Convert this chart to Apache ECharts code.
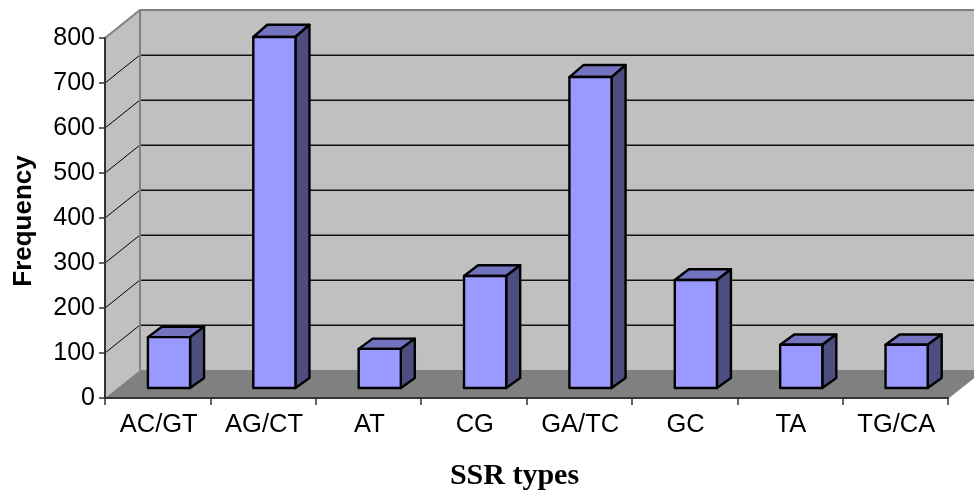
<!DOCTYPE html>
<html>
<head>
<meta charset="utf-8">
<style>
html, body { margin: 0; padding: 0; background: #fff; }
#chart { width: 974px; height: 493px; }
</style>
<script src="https://cdn.jsdelivr.net/npm/echarts@6/dist/echarts.min.js"></script>
</head>
<body>
<div id="chart"></div>
<script>
var categories = ['AC/GT', 'AG/CT', 'AT', 'CG', 'GA/TC', 'GC', 'TA', 'TG/CA'];
var frequency = [113, 780, 87, 249, 691, 240, 96, 96];
var gridValues = [100, 200, 300, 400, 500, 600, 700];

// pseudo 3d depth of the box and of the bars, in pixels
var wallDx = 35, wallDy = -28;
var barDx = 11.3, barDy = -10;
var sideDx = 14, sideDy = -10;

var mychar = echarts.init(document.querySelector('#chart'));

function wallsItem(params, api) {
    var band = api.size([1, 0])[0];
    var x0 = api.coord([0, 0])[0] - band / 2;
    var x1 = x0 + band * categories.length;
    var y0 = api.coord([0, 0])[1];
    var yTop = api.coord([0, 800])[1];
    var border = { stroke: '#808080', lineWidth: 2, fill: null };
    var children = [
        { type: 'polygon', shape: { points: [[x0 + wallDx, yTop + wallDy], [x1 + wallDx, yTop + wallDy], [x1 + wallDx, y0 + wallDy], [x0 + wallDx, y0 + wallDy]] }, style: { fill: '#c0c0c0' } },
        { type: 'polygon', shape: { points: [[x0, yTop], [x0 + wallDx, yTop + wallDy], [x0 + wallDx, y0 + wallDy], [x0, y0]] }, style: { fill: '#c0c0c0' } },
        { type: 'polygon', shape: { points: [[x0, y0], [x1, y0], [x1 + wallDx, y0 + wallDy], [x0 + wallDx, y0 + wallDy]] }, style: { fill: '#808080' } }
    ];
    gridValues.forEach(function (v) {
        var y = Math.round(api.coord([0, v])[1]);
        children.push({ type: 'line', shape: { x1: x0, y1: y, x2: x0 + wallDx, y2: y + wallDy }, style: { stroke: '#000', lineWidth: 1 } });
        children.push({ type: 'line', shape: { x1: x0 + wallDx, y1: y + wallDy + 0.25, x2: x1 + wallDx, y2: y + wallDy + 0.25 }, style: { stroke: '#111', lineWidth: 1.5 } });
    });
    children.push({ type: 'polyline', shape: { points: [[x0, yTop], [x0 + wallDx, yTop + wallDy], [x1 + wallDx, yTop + wallDy]] }, style: border });
    children.push({ type: 'line', shape: { x1: x0 + wallDx, y1: yTop + wallDy, x2: x0 + wallDx, y2: y0 + wallDy }, style: border });
    children.push({ type: 'line', shape: { x1: x1, y1: y0, x2: x1 + wallDx, y2: y0 + wallDy }, style: { stroke: '#808080', lineWidth: 1.5 } });
    return { type: 'group', children: children };
}

function barItem(params, api) {
    var i = api.value(0);
    var v = api.value(1);
    var c = api.coord([i, 0]);
    var t = api.coord([i, v]);
    var half = api.size([1, 0])[0] * 0.2;
    var l = c[0] + barDx - half, r = c[0] + barDx + half;
    var b = c[1] + barDy, u = t[1] + barDy;
    // the original has a slight perspective: tall bars look a bit deeper on top
    var topDy = sideDy - 2.3 * v / 800;
    var edge = { stroke: '#000', lineWidth: 2.4, lineJoin: 'round' };
    return {
        type: 'group',
        children: [
            { type: 'polygon', shape: { points: [[l, u], [r, u], [r + sideDx, u + topDy], [l + sideDx, u + topDy]] }, style: Object.assign({ fill: '#7373bf' }, edge) },
            { type: 'polygon', shape: { points: [[r, u], [r + sideDx, u + topDy], [r + sideDx, b + sideDy], [r, b]] }, style: Object.assign({ fill: '#4d4d80' }, edge) },
            { type: 'rect', shape: { x: l, y: u, width: r - l, height: b - u }, style: Object.assign({ fill: '#9999ff' }, edge) }
        ]
    };
}

var option = {
    animation: false,
    grid: { left: 105, right: 26, top: 38, bottom: 95, outerBoundsMode: 'none' },
    xAxis: {
        type: 'category',
        data: categories,
        z: 5,
        name: 'SSR types',
        nameLocation: 'middle',
        nameGap: 63,
        nameTextStyle: { fontFamily: 'Liberation Serif', fontWeight: 'bold', fontSize: 30, color: '#000', padding: [0, 24, 0, 0] },
        axisLine: { lineStyle: { color: '#333', width: 2 } },
        axisTick: { show: true, alignWithLabel: false, length: 7, lineStyle: { color: '#333', width: 1.5 } },
        axisLabel: { interval: 0, color: '#000', fontFamily: 'Liberation Sans', fontSize: 25.5, margin: 14, padding: [0, 0, 0, 2] }
    },
    yAxis: {
        type: 'value',
        min: 0,
        max: 800,
        interval: 100,
        z: 5,
        name: 'Frequency',
        nameLocation: 'middle',
        nameGap: 68,
        nameTextStyle: { fontFamily: 'Liberation Sans', fontWeight: 'bold', fontSize: 26, color: '#000', padding: [0, 6, 0, 0] },
        axisLine: { show: true, lineStyle: { color: '#333', width: 2 } },
        axisTick: { show: true, length: 6, lineStyle: { color: '#333', width: 1.5 } },
        axisLabel: { color: '#000', fontFamily: 'Liberation Sans', fontSize: 25, margin: 10, padding: [6, 0, 0, 0] },
        splitLine: { show: false }
    },
    series: [
        {
            type: 'custom',
            z: 1,
            silent: true,
            renderItem: wallsItem,
            data: [[0, 0]],
            encode: { x: 0, y: 1 }
        },
        {
            type: 'custom',
            z: 2,
            renderItem: barItem,
            data: frequency.map(function (v, i) { return [i, v]; }),
            encode: { x: 0, y: 1 }
        }
    ]
};
mychar.setOption(option);
</script>
</body>
</html>
